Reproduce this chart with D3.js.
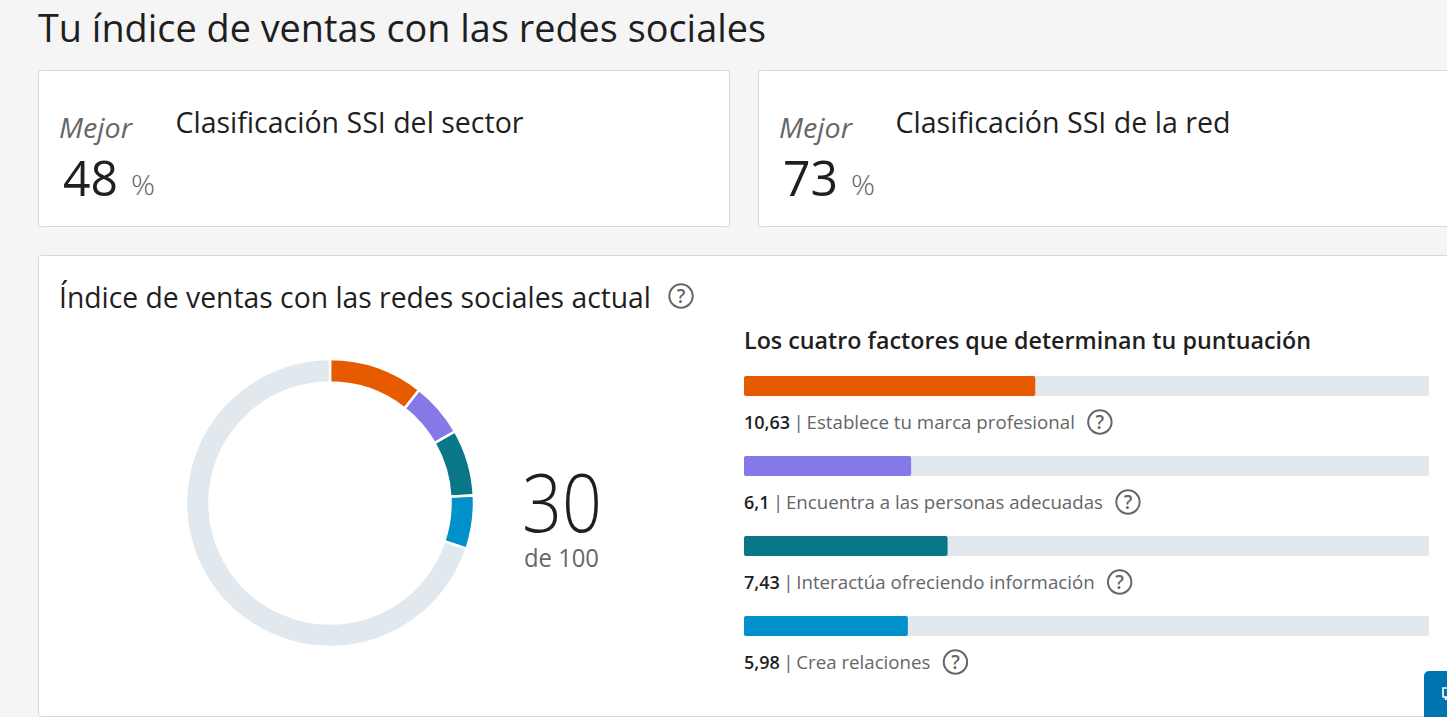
<!DOCTYPE html>
<html lang="es">
<head>
<meta charset="utf-8">
<title>Tu índice de ventas con las redes sociales</title>
<script src="https://cdn.jsdelivr.net/npm/d3@7"></script>
<style>
  html, body { margin: 0; padding: 0; background: #f5f5f5; overflow: hidden; }
  svg { display: block; font-family: "Open Sans", sans-serif; }
</style>
</head>
<body>
<svg id="chart"></svg>
<script>
// SSI dashboard: two rank cards, donut and four factor bars
const factorNames = ['Establece tu marca profesional', 'Encuentra a las personas adecuadas', 'Interactúa ofreciendo información', 'Crea relaciones'];
const factorValues = [10.63, 6.1, 7.43, 5.98];
const factorLabels = ['10,63', '6,1', '7,43', '5,98'];
const factorColors = ['#e65a00', '#8579e8', '#0a7788', '#0091ca'];
const rankTitles = ['Clasificación SSI del sector', 'Clasificación SSI de la red'];
const rankValues = [48, 73];
const totalScore = 30;
const scoreMax = 100;
const factorMax = 25;

const W = 1447, H = 717;
const TRACK = '#e1e8ee', INK = '#1f1f1f', GREY = '#666666', BORDER = '#d8d8d8';

const svg = d3.select('#chart').attr('width', W).attr('height', H).attr('viewBox', `0 0 ${W} ${H}`);

// width-fitted text, the original face (Segoe UI) isn't installed
function label(g, x, y, str, size, opts = {}) {
    const t = g.append('text').attr('x', x).attr('y', y)
        .attr('font-size', size)
        .attr('fill', opts.fill || INK)
        .attr('font-weight', opts.weight || 400)
        .attr('font-style', opts.italic ? 'italic' : null)
        .text(str);
    if (opts.width) t.attr('textLength', opts.width).attr('lengthAdjust', 'spacingAndGlyphs');
    return t;
}

function card(x, y, w, h) {
    svg.append('rect').attr('x', x + 0.5).attr('y', y + 0.5).attr('width', w).attr('height', h)
        .attr('rx', 2).attr('fill', '#fff').attr('stroke', BORDER);
}

function helpIcon(cx, cy) {
    const g = svg.append('g').attr('transform', `translate(${cx},${cy})`);
    g.append('circle').attr('r', 11.7).attr('fill', 'none').attr('stroke', GREY).attr('stroke-width', 2);
    g.append('text').attr('text-anchor', 'middle').attr('y', 7).attr('font-size', 19)
        .attr('font-weight', 600).attr('fill', GREY).text('?');
}

// ── Header and rank cards ────────────────────────────────────────────────
label(svg, 38, 42, 'Tu índice de ventas con las redes sociales', 38.5, { width: 728 });

const cardX = d3.scaleLinear().domain([0, 1]).range([38, 758]);
rankValues.forEach((v, i) => {
    const x0 = cardX(i);
    card(x0, 70, 691, 156);
    label(svg, x0 + 21, 137.5, 'Mejor', 28, { fill: GREY, italic: true, width: 73 });
    label(svg, x0 + 25, 196, v, 50, { weight: 400, width: 55 });
    label(svg, x0 + 93, 195, '%', 27, { fill: GREY, weight: 300, width: 24 });
    label(svg, x0 + 137.5, 133, rankTitles[i], 30, { width: i === 0 ? 348 : 335 });
});

// ── Score card ───────────────────────────────────────────────────────────
card(38, 255, 1420, 461);
label(svg, 59, 308, 'Índice de ventas con las redes sociales actual', 29, { width: 592 });
helpIcon(681, 296);

// ── Donut ────────────────────────────────────────────────────────────────
const pie = d3.pie().sort(null).value(d => d.value);
const arc = d3.arc().innerRadius(120.5).outerRadius(144);
const slices = factorValues.map((value, i) => ({ value, color: factorColors[i] }));
slices.push({ value: scoreMax - d3.sum(factorValues), color: TRACK });

svg.append('g').attr('transform', 'translate(330,503)')
    .selectAll('path')
    .data(pie(slices))
    .join('path')
    .attr('d', arc)
    .attr('fill', d => d.data.color)
    .attr('stroke', '#fff')
    .attr('stroke-width', 2.5);

label(svg, 522, 532, totalScore, 82, { weight: 300, width: 80 });
label(svg, 524, 567, 'de ' + scoreMax, 25, { fill: GREY, width: 75 });

// ── Factor bars ──────────────────────────────────────────────────────────
label(svg, 744, 349, 'Los cuatro factores que determinan tu puntuación', 23, { weight: 600, width: 567 });

const x = d3.scaleLinear().domain([0, factorMax]).range([744, 1429]);
const y = d3.scaleBand().domain(factorNames).range([376, 696]);
const BAR_H = 20, ROW_FONT = 18.7;

factorNames.forEach((name, i) => {
    const top = y(name);
    svg.append('rect').attr('x', x(0)).attr('y', top).attr('width', x(factorMax) - x(0)).attr('height', BAR_H)
        .attr('rx', 2).attr('fill', TRACK);
    svg.append('rect').attr('x', x(0)).attr('y', top).attr('width', x(factorValues[i]) - x(0)).attr('height', BAR_H)
        .attr('rx', 2).attr('fill', factorColors[i]);

    const baseline = top + 53;
    const val = label(svg, x(0), baseline, factorLabels[i], 18, { weight: 600 });
    const valEnd = x(0) + val.node().getComputedTextLength();
    label(svg, valEnd + 3.5, baseline, '|', ROW_FONT, { fill: GREY });
    const txt = label(svg, valEnd + 16.5, baseline, name, ROW_FONT, { fill: GREY });
    helpIcon(valEnd + 16.5 + txt.node().getComputedTextLength() + 25, top + 46);
});

// ── Messaging tab, cut off by the window corner ──────────────────────────
svg.append('rect').attr('x', 1424).attr('y', 671).attr('width', 40).attr('height', 60).attr('rx', 5).attr('fill', '#0073b1');
svg.append('path').attr('d', 'M1443 688h8v9h-5v3l-1-3h-2z').attr('fill', 'none').attr('stroke', '#fff').attr('stroke-width', 1.6);
</script>
</body>
</html>
